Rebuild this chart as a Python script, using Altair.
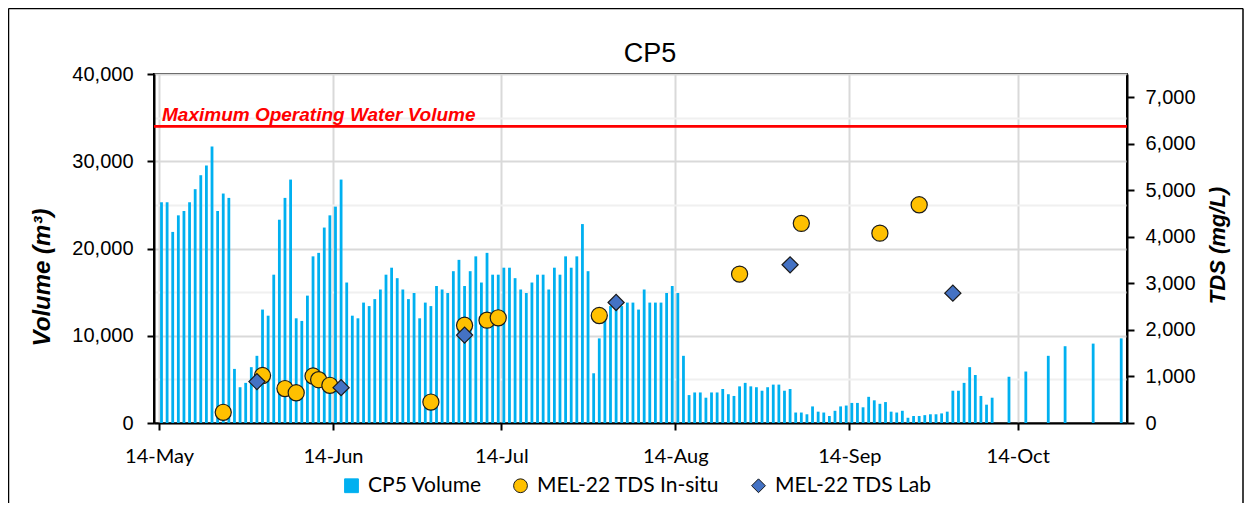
import altair as alt
import pandas as pd

# ---------------- data ----------------
VOLUME_START = "2024-05-14"  # daily volumes from this date onward
VOLUME_DAILY = [
    # May 14 - May 31
    25300, 25300, 21900, 23800, 24300, 25300, 26800, 28400, 29500, 31700,
    24300, 26300, 25800, 6200, 4100, 4600, 6400, 7700,
    # June
    13000, 12300, 17000, 23300, 25800, 27900, 12000, 11700, 14600, 19100,
    19500, 22400, 23800, 24800, 27900, 16100, 12300, 12000, 13800, 13400,
    14200, 15300, 17000, 17800, 16600, 15300, 14200, 14900, 12000, 13800,
    # July
    13400, 15700, 15300, 14900, 17400, 18700, 15700, 17400, 19100, 16100,
    19500, 17000, 17000, 17800, 17800, 16600, 15300, 14900, 16100, 17000,
    17000, 15300, 17800, 17000, 19100, 17800, 19100, 22800, 17400, 5700, 9700,
    # August
    12000, 13400, 13800, 13400, 13800, 13800, 13000, 15300, 13800, 13800,
    13800, 14900, 15700, 14900, 7700, 3200, 3500, 3500, 2900, 3500,
    3500, 3900, 3300, 3100, 4200, 4600, 4200, 4100, 3700, 4100, 4400,
    # September
    4400, 3700, 3900, 1200, 1200, 1000, 1900, 1300, 1200, 800,
    1400, 1900, 2000, 2300, 2300, 1800, 3000, 2600, 2200, 2400,
    1300, 1200, 1400, 600, 800, 800, 900, 1000, 1000, 1100,
    # October 1 - 9
    1300, 3700, 3700, 4600, 6400, 5500, 3100, 2100, 2900,
]
SPARSE_DATES = ["2024-10-12", "2024-10-15", "2024-10-19", "2024-10-22", "2024-10-27", "2024-11-01"]
SPARSE_VOLUME = [5300, 5900, 7700, 8800, 9100, 9700]

INSITU_DATES = ["2024-05-25", "2024-06-01", "2024-06-05", "2024-06-07", "2024-06-10", "2024-06-11",
                "2024-06-13", "2024-07-01", "2024-07-07", "2024-07-11", "2024-07-13", "2024-07-31",
                "2024-08-25", "2024-09-05", "2024-09-19", "2024-09-26"]
INSITU_TDS = [230, 1020, 740, 650, 1010, 930, 810, 450, 2100, 2210, 2260, 2310, 3200, 4290, 4080, 4690]

LAB_DATES = ["2024-05-31", "2024-06-15", "2024-07-07", "2024-08-03", "2024-09-03", "2024-10-02"]
LAB_TDS = [890, 760, 1890, 2590, 3400, 2790]

MAX_VOLUME = 34000
MAX_LABEL = "Maximum Operating Water Volume"
TITLE = "CP5"

SERIES = ["CP5 Volume", "MEL-22 TDS In-situ", "MEL-22 TDS Lab"]
SERIES_COLORS = ["#00b0f0", "#ffc000", "#4472c4"]
SERIES_STROKES = ["#00b0f0", "#1a1a1a", "#1a1a1a"]
SERIES_SHAPES = ["square", "circle", "diamond"]

MONTH_TICKS = [(5, 14), (6, 14), (7, 14), (8, 14), (9, 14), (10, 14)]
VOL_TICKS = [0, 5000, 10000, 15000, 20000, 25000, 30000, 35000, 40000]
TDS_TICKS = [0, 1000, 2000, 3000, 4000, 5000, 6000, 7000]

# ---------------- tables ----------------
daily_dates = pd.date_range(VOLUME_START, periods=len(VOLUME_DAILY), freq="D").strftime("%Y-%m-%d").tolist()
vol_df = pd.DataFrame({"date": daily_dates + SPARSE_DATES, "volume": VOLUME_DAILY + SPARSE_VOLUME})
tds_df = pd.DataFrame({
    "date": INSITU_DATES + LAB_DATES,
    "tds": INSITU_TDS + LAB_TDS,
    "series": [SERIES[1]] * len(INSITU_DATES) + [SERIES[2]] * len(LAB_DATES),
})
max_df = pd.DataFrame({"v": [MAX_VOLUME], "label": [MAX_LABEL]})
title_df = pd.DataFrame({"t": [TITLE]})
one_df = pd.DataFrame({"k": [0]})

W, H = 973, 349
SLOT_SHIFT = 2.5  # bars/markers sit in the middle of their day slot

x_scale = alt.Scale(
    type="utc",
    domain=[alt.DateTime(year=2024, month=5, date=14, utc=True),
            alt.DateTime(year=2024, month=11, date=1, hours=14, utc=True)],
)
x_axis = alt.Axis(
    values=[alt.DateTime(year=2024, month=m, date=d, utc=True) for m, d in MONTH_TICKS],
    format="%d-%b", title=None,
    labelFont="Lato", labelFontSize=20, labelColor="#000000",
    labelBaseline="alphabetic", labelPadding=32,
    tickSize=7, tickWidth=2, tickColor="#000000",
    domainColor="#000000", domainWidth=2,
    grid=True, gridColor="#d9d9d9", gridWidth=2,
)
X = alt.X("date:T", scale=x_scale, axis=x_axis)

major_test = "datum.value % 10000 === 0"
vol_axis = alt.Axis(
    values=VOL_TICKS,
    labelExpr=f"{major_test} ? format(datum.value, ',') : ''",
    labelFont="Liberation Sans", labelFontSize=20, labelColor="#000000", labelPadding=14,
    tickSize=7, tickWidth=2,
    tickColor={"condition": {"test": major_test, "value": "#000000"}, "value": "transparent"},
    domainColor="#000000", domainWidth=2,
    grid=True, gridWidth=2,
    gridColor={"condition": {"test": major_test, "value": "#d9d9d9"}, "value": "#f0f0f0"},
    title="Volume (m³)", titleFont="Liberation Sans", titleFontSize=24, titleFontWeight="bold",
    titleFontStyle="italic", titleColor="#000000", titleAngle=270, titleAlign="center",
    titleBaseline="middle", titleX=-112, titleY=203,
)
vol_scale = alt.Scale(domain=[0, 40000], nice=False)

bars = alt.Chart(vol_df).mark_bar(width=2.8, color="#00b0f0", xOffset=SLOT_SHIFT).encode(
    x=X, y=alt.Y("volume:Q", scale=vol_scale, axis=vol_axis)
)
max_rule = alt.Chart(max_df).mark_rule(color="#ff0000", strokeWidth=2.7).encode(
    y=alt.Y("v:Q", scale=vol_scale)
)
max_text = alt.Chart(max_df).mark_text(
    align="left", baseline="alphabetic", dy=-5, font="Liberation Sans", fontSize=19,
    fontWeight="bold", fontStyle="italic", color="#ff0000",
).encode(x=alt.value(8), y=alt.Y("v:Q", scale=vol_scale), text="label:N")

title_text = alt.Chart(title_df).mark_text(
    align="center", baseline="alphabetic", font="Liberation Sans", fontSize=27, color="#000000"
).encode(x=alt.value(496), y=alt.value(-12), text="t:N")

frame_style = dict(color="#000000", strokeWidth=1.5)
frame_left = alt.Chart(one_df).mark_rule(**frame_style).encode(
    x=alt.value(-145.5), y=alt.value(-65.5), y2=alt.value(520))
frame_top = alt.Chart(one_df).mark_rule(**frame_style).encode(
    y=alt.value(-65.5), x=alt.value(-145.5), x2=alt.value(1089))
frame_right = alt.Chart(one_df).mark_rule(**frame_style).encode(
    x=alt.value(1089), y=alt.value(-65.5), y2=alt.value(520))

left = alt.layer(frame_left, frame_top, frame_right, bars, max_rule, max_text, title_text)

legend = alt.Legend(
    title=None, orient="none", legendX=187, legendY=401, direction="horizontal",
    labelFont="Lato", labelFontSize=21, labelColor="#000000", labelLimit=400, symbolSize=190,
    symbolStrokeWidth=1, columnPadding=28, labelOffset=6, padding=0,
)
points = alt.Chart(tds_df).mark_point(
    filled=True, size=260, strokeWidth=1.2, opacity=1, xOffset=SLOT_SHIFT
).encode(
    x=X,
    y=alt.Y("tds:Q", scale=alt.Scale(domain=[0, 7500], nice=False), axis=alt.Axis(
        orient="right", values=TDS_TICKS, labelExpr="format(datum.value, ',')", grid=False,
        labelFont="Liberation Sans", labelFontSize=20, labelColor="#000000", labelPadding=11,
        tickSize=7, tickWidth=2, tickColor="#000000", domainColor="#000000", domainWidth=2,
        title="TDS (mg/L)", titleFont="Liberation Sans", titleFontSize=22, titleFontWeight="bold",
        titleFontStyle="italic", titleColor="#000000", titleAngle=270, titleAlign="center",
        titleBaseline="middle", titleX=90, titleY=171,
    )),
    color=alt.Color("series:N", scale=alt.Scale(domain=SERIES, range=SERIES_COLORS), legend=legend),
    shape=alt.Shape("series:N", scale=alt.Scale(domain=SERIES, range=SERIES_SHAPES), legend=legend),
    stroke=alt.Stroke("series:N", scale=alt.Scale(domain=SERIES, range=SERIES_STROKES), legend=legend),
)

chart = alt.layer(left, points).resolve_scale(y="independent").properties(
    width=W, height=H,
    autosize=alt.AutoSizeParams(type="none"),
    padding={"left": 146, "top": 66, "right": 117, "bottom": 80},
).configure_view(stroke="#000000", strokeWidth=2)

chart.save("out.html", embed_options={"renderer": "svg", "actions": False})
